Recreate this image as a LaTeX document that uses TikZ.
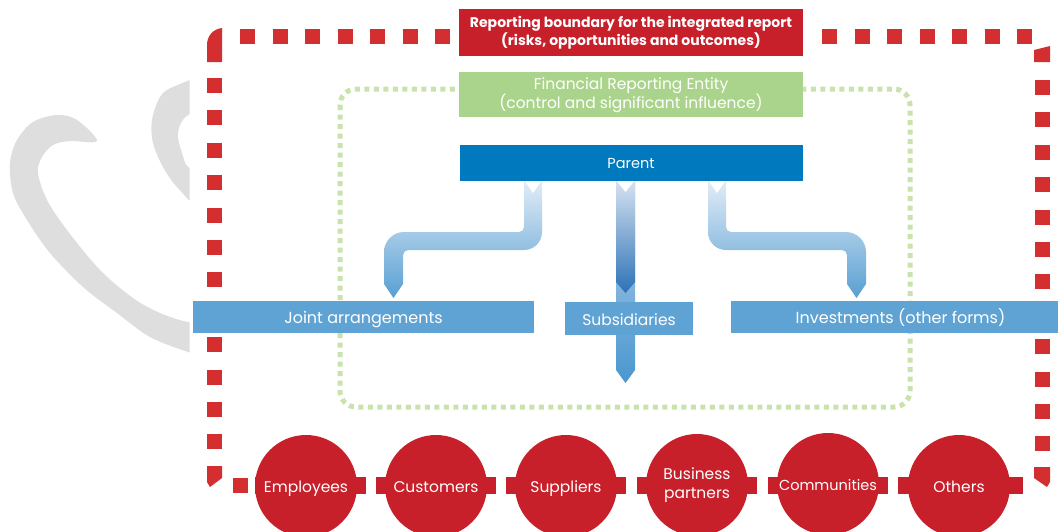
\documentclass[tikz,border=0pt]{standalone}
\usepackage{fontspec}
\setmainfont{Poppins}
\definecolor{rboxred}{HTML}{C8202B}
\definecolor{rdash}{HTML}{D42F30}
\definecolor{gbox}{HTML}{AAD48C}
\definecolor{gdot}{HTML}{C9E3AC}
\definecolor{parentblue}{HTML}{0079BF}
\definecolor{lblue}{HTML}{5FA3D4}
\definecolor{arrowtop}{HTML}{EEF3FA}
\definecolor{arrowbot}{HTML}{4A97CF}
\definecolor{darktop}{HTML}{D6E2F1}
\definecolor{darkbot}{HTML}{2C72B6}
\definecolor{midtop}{HTML}{B9D3EC}
\definecolor{wmgray}{HTML}{DEDEDE}
\begin{document}
\begin{tikzpicture}[x=1pt,y=-1pt,
  rdashline/.style={draw=rdash, line width=15pt, dash pattern=on 15pt off 17.5pt},
  topbox/.style={rectangle, inner sep=0pt, minimum width=344pt, align=center, text=white},
  bluebox/.style={rectangle, inner sep=0pt, fill=lblue, text=white, text height=13pt, text depth=0pt, font=\fontsize{16}{18}\selectfont},
  stake/.style={circle, fill=rboxred, inner sep=0pt, minimum size=102pt, text=white, align=center, font=\fontsize{15.5}{17}\selectfont},
  onel/.style={text height=12.5pt, text depth=0pt},
  stub/.style={fill=rboxred}
]
\useasboundingbox (0,0) rectangle (1058,531);
\fill[white] (0,0) rectangle (1058,531);

% watermark shapes
\begin{scope}
\clip (0,0) rectangle (189.5,531);
\fill[wmgray] plot[smooth cycle, tension=0.55] coordinates {
 (97,141) (77,120) (57,115) (33,122) (17,140) (10,163) (13,193) (27,220) (50,253)
 (83,287) (117,313) (150,337) (188,352) (205,356) (205,320) (188,322) (160,313)
 (133,298) (100,270) (67,230) (47,200) (38,173) (42,157) (53,145) (70,141)};
\fill[wmgray] plot[smooth cycle, tension=0.55] coordinates {
 (205,78) (173,87) (160,97) (152,120) (153,143) (163,167) (177,187) (200,207)
 (205,172) (188,167) (182,153) (178,137) (180,125) (188,115) (205,110)};
\end{scope}

% green dotted entity boundary
\draw[gdot, line width=5pt, dash pattern=on 5pt off 4.5pt, rounded corners=16pt]
  (340,89) rectangle (910,407);

% red dashed reporting boundary
\draw[rdashline] (240,36.5) -- (455,36.5);
\draw[rdashline] (822,36.5) -- (1035,36.5);
\draw[rdashline, dash pattern=on 15pt off 17.4pt] (214.5,78) -- (214.5,452);
\draw[rdashline, dash pattern=on 15pt off 17.4pt] (1042,80) -- (1042,452);
\fill[rdash] (207,62) -- (207,45) .. controls (207,36) and (213,29) .. (222,28) -- (222,62) -- cycle;
\fill[rdash] (1034,50) -- (1050,46) -- (1050,62) -- (1034,62) -- cycle;
\fill[rdash] (207,466) -- (222,466) -- (222,478) -- (210,487) -- (207,482) -- cycle;
\fill[rdash] (1034,467) -- (1050,467) -- (1050,482) -- (1047,487) -- (1034,478) -- cycle;
\fill[rdash] (233,478) rectangle (248,493);

% title boxes
\node[topbox, fill=rboxred, minimum height=47pt, font=\bfseries\fontsize{14}{16.5}\selectfont] (title) at (631,32.5)
  {Reporting boundary for the integrated report\\(risks, opportunities and outcomes)};
\node[topbox, fill=gbox, minimum height=45pt, font=\fontsize{15.5}{17}\selectfont] (entity) at (631,94.5)
  {\rule{0pt}{13pt}Financial Reporting Entity\\(control and significant influence)};

% left arrow (to joint arrangements)
\begin{scope}
\clip (0,181) -- (1058,181) -- (1058,284) -- (403,284) -- (393.5,298) -- (384,284) -- (0,284) -- cycle;
\shade[top color=arrowtop, bottom color=arrowbot]
  (524,170) -- (524,227) .. controls (524,229.8) and (521.8,232) .. (519,232)
  -- (404,232) .. controls (393,232) and (384,241) .. (384,252)
  -- (384,310) -- (403,310) -- (403,255) .. controls (403,252.2) and (405.8,250) .. (408,250)
  -- (524,250) .. controls (534,250) and (542,242) .. (542,232) -- (542,170) -- cycle;
\end{scope}
% right arrow (to investments)
\begin{scope}
\clip (0,181) -- (1058,181) -- (1058,284) -- (866,284) -- (856.5,298) -- (847,284) -- (0,284) -- cycle;
\shade[top color=arrowtop, bottom color=arrowbot]
  (708,170) -- (708,232) .. controls (708,242) and (716,250) .. (726,250)
  -- (842,250) .. controls (844.8,250) and (847,252.2) .. (847,255)
  -- (847,310) -- (866,310) -- (866,252) .. controls (866,241) and (857,232) .. (846,232)
  -- (731,232) .. controls (728.2,232) and (726,229.8) .. (726,227) -- (726,170) -- cycle;
\end{scope}
% middle light shaft (through subsidiaries)
\shade[top color=midtop, bottom color=arrowbot]
  (616,181) -- (635,181) -- (635,370) -- (625.5,383) -- (616,370) -- cycle;
% middle dark arrow
\shade[top color=darktop, bottom color=darkbot]
  (616,181) -- (635,181) -- (635,282) -- (625.5,293) -- (616,282) -- cycle;
% tail notches
\fill[white] (524,180) -- (542,180) -- (533,193) -- cycle;
\fill[white] (616,180) -- (635,180) -- (625.5,192) -- cycle;
\fill[white] (708,180) -- (726,180) -- (717,193) -- cycle;

% parent
\node[rectangle, inner sep=0pt, fill=parentblue, minimum width=343pt, minimum height=36pt,
  text=white, text height=11pt, text depth=0pt, font=\fontsize{14.5}{16}\selectfont] (parent) at (631,163) {Parent};

% entity boxes
\node[bluebox, minimum width=341pt, minimum height=32pt] (joint) at (363.5,317) {Joint arrangements};
\node[bluebox, minimum width=128pt, minimum height=33pt, font=\fontsize{15.5}{18}\selectfont] (subs) at (629,318.5) {Subsidiaries};
\node[bluebox, minimum width=339pt, minimum height=32pt] (inv) at (900.5,317) {Investments (other forms)};

% stakeholder circles with connecting bars
\fill[stub] (255,477) rectangle (366,494);
\fill[stub] (376,477) rectangle (496,494);
\fill[stub] (506,477) rectangle (626,494);
\fill[stub] (637,477) rectangle (757,494);
\fill[stub] (768,477) rectangle (888,494);
\fill[stub] (898,477) rectangle (1023,494);
\node[stake, onel] (emp) at (306,486) {Employees};
\node[stake, onel] (cus) at (436,486) {Customers};
\node[stake, onel] (sup) at (566,486) {Suppliers};
\node[stake, font=\fontsize{15.5}{19}\selectfont] (bus) at (697,485) {Business\\partners};
\node[stake, onel, font=\fontsize{14.5}{17}\selectfont] (com) at (828,484) {Communities};
\node[stake, onel] (oth) at (959,486) {Others};
\end{tikzpicture}
\end{document}
